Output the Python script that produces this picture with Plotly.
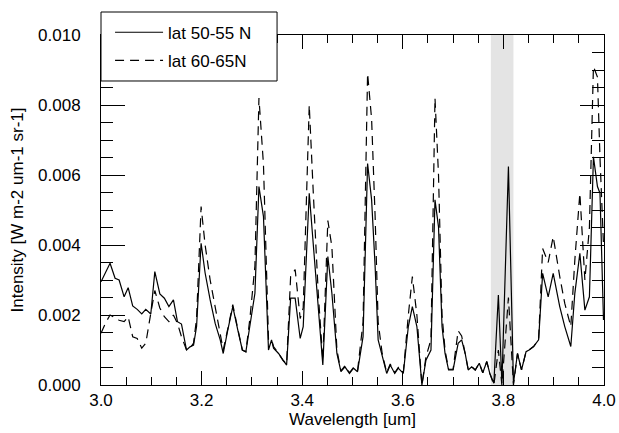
import plotly.graph_objects as go

wavelength = [3.000, 3.009, 3.018, 3.028, 3.036, 3.046, 3.054, 3.063, 3.072, 3.081,
              3.089, 3.099, 3.107, 3.117, 3.126, 3.135, 3.144, 3.152, 3.160, 3.170,
              3.177, 3.184, 3.190, 3.199, 3.207, 3.217, 3.227, 3.237, 3.243, 3.252,
              3.262, 3.272, 3.281, 3.288, 3.296, 3.306, 3.314, 3.323, 3.333, 3.339,
              3.343, 3.353, 3.362, 3.369, 3.377, 3.386, 3.396, 3.402, 3.414, 3.422,
              3.432, 3.441, 3.451, 3.459, 3.469, 3.477, 3.485, 3.494, 3.502, 3.510,
              3.521, 3.530, 3.538, 3.545, 3.551, 3.559, 3.568, 3.575, 3.584, 3.591,
              3.601, 3.611, 3.619, 3.628, 3.638, 3.646, 3.656, 3.664, 3.671, 3.678,
              3.684, 3.691, 3.700, 3.710, 3.717, 3.724, 3.730, 3.737, 3.744, 3.752,
              3.759, 3.767, 3.773, 3.781, 3.790, 3.797, 3.810, 3.820, 3.828, 3.836,
              3.845, 3.851, 3.860, 3.870, 3.878, 3.889, 3.899, 3.912, 3.922, 3.934,
              3.942, 3.952, 3.962, 3.971, 3.979, 3.987, 3.992, 3.999]

lat_50_55 = [2.95, 3.20, 3.48, 3.05, 3.00, 2.52, 2.78, 2.26, 2.16, 2.03,
             2.16, 2.03, 3.24, 2.60, 2.48, 2.24, 2.43, 1.81, 1.74, 1.00,
             1.09, 1.14, 1.67, 4.05, 3.20, 2.43, 1.76, 1.29, 0.90, 1.57,
             2.24, 1.57, 1.00, 0.95, 1.67, 2.62, 5.67, 4.81, 1.00, 1.29,
             1.05, 0.90, 0.71, 0.57, 2.48, 2.48, 1.33, 1.67, 5.48, 3.95,
             2.05, 0.57, 3.67, 2.62, 0.90, 0.38, 0.52, 0.33, 0.48, 0.38,
             1.38, 6.33, 5.29, 3.38, 1.29, 0.81, 0.33, 0.57, 0.33, 0.48,
             0.33, 1.67, 2.24, 1.67, 0.00, 0.71, 1.00, 5.29, 4.52, 1.67,
             0.90, 0.43, 0.43, 1.19, 1.29, 0.90, 0.43, 0.52, 0.43, 0.62,
             0.35, 0.67, 0.33, 0.05, 2.57, 0.05, 6.24, 0.05, 0.90, 0.43,
             0.95, 1.00, 1.10, 1.29, 3.19, 2.52, 3.19, 2.24, 1.67, 1.10,
             2.62, 3.76, 2.14, 2.52, 6.52, 5.67, 5.48, 1.86]

lat_60_65 = [1.48, 1.77, 2.00, 1.91, 1.85, 1.81, 1.95, 1.38, 1.33, 1.05,
             1.19, 2.05, 2.70, 2.20, 1.95, 1.81, 2.00, 1.76, 1.38, 1.00,
             1.05, 1.20, 1.90, 5.10, 4.00, 3.00, 2.20, 1.50, 1.00, 1.60,
             2.30, 1.60, 1.00, 0.95, 1.90, 3.40, 8.20, 6.30, 1.30, 1.30,
             1.10, 0.90, 0.70, 0.60, 3.10, 3.30, 1.90, 2.20, 8.00, 5.50,
             2.60, 0.70, 4.70, 3.95, 1.00, 0.40, 0.55, 0.35, 0.50, 0.40,
             1.80, 8.90, 7.60, 4.80, 1.80, 0.90, 0.35, 0.60, 0.35, 0.50,
             0.35, 2.00, 3.10, 2.00, 0.00, 0.80, 1.30, 8.20, 6.00, 2.00,
             1.00, 0.45, 0.45, 1.55, 1.40, 0.90, 0.45, 0.52, 0.43, 0.62,
             0.35, 0.67, 0.33, 0.00, 1.00, 0.00, 2.50, 0.00, 0.90, 0.43,
             0.95, 1.00, 1.10, 1.30, 3.90, 3.50, 4.24, 3.10, 2.33, 1.67,
             3.57, 5.48, 3.00, 4.50, 9.10, 8.80, 6.50, 4.00]

series_names = ["lat 50-55 N", "lat 60-65N"]
band_range = [3.775, 3.820]
x_range = [3.0, 4.0]
y_range = [0.0, 0.010]

scale = 0.001
y1 = [v * scale for v in lat_50_55]
y2 = [v * scale for v in lat_60_65]

FONT = "Liberation Sans, Arial, Helvetica, sans-serif"

fig = go.Figure()
fig.add_trace(go.Scatter(x=wavelength, y=y1, mode="lines", name=series_names[0],
                         legendgroup="a",
                         line=dict(color="black", width=1.2)))
fig.add_trace(go.Scatter(x=wavelength, y=y2, mode="lines", name=series_names[1],
                         legendgroup="b",
                         line=dict(color="black", width=1.2, dash="9px,6px")))

fig.add_shape(type="rect", xref="x", yref="paper", x0=band_range[0], x1=band_range[1],
              y0=0, y1=1, fillcolor="#e4e4e4", line=dict(width=0), layer="below")

# legend box
fig.add_shape(type="rect", xref="paper", yref="paper", x0=0, x1=0.35,
              y0=0.8686, y1=1.0657, fillcolor="white",
              line=dict(color="black", width=1), layer="above")

axis_common = dict(showline=True, linecolor="black", linewidth=1, mirror="allticks",
                   ticks="inside", tickcolor="black", showgrid=False, zeroline=False,
                   tickfont=dict(size=17, color="black", family=FONT))

fig.update_xaxes(range=x_range, dtick=0.2, tick0=3.0, tickformat=".1f", ticklen=14,
                 minor=dict(dtick=0.05, ticklen=8, ticks="inside", tickcolor="black"),
                 title=dict(text="Wavelength [um]", font=dict(size=17, family=FONT, color="black"),
                            standoff=2),
                 **axis_common)
fig.update_yaxes(range=y_range, dtick=0.002, tickformat=".3f", ticklen=24,
                 minor=dict(dtick=0.0005, ticklen=12, ticks="inside", tickcolor="black"),
                 ticklabelstandoff=16,
                 title=dict(text="Intensity [W m-2 um-1 sr-1]",
                            font=dict(size=17, family=FONT, color="black"), standoff=10),
                 **axis_common)

fig.update_layout(
    width=619, height=433,
    margin=dict(l=101, r=15, t=35, b=48, autoexpand=False),
    paper_bgcolor="white", plot_bgcolor="white",
    font=dict(family=FONT, size=17, color="black"),
    showlegend=True,
    legend=dict(x=0.018, y=1.058, xanchor="left", yanchor="top",
                bgcolor="rgba(0,0,0,0)", borderwidth=0,
                font=dict(size=17, family=FONT, color="black"),
                tracegroupgap=3, itemwidth=48),
)

fig.write_html("out.html", config={"displayModeBar": False},
               post_script="document.body.style.margin='0';document.body.style.overflow='hidden';")
